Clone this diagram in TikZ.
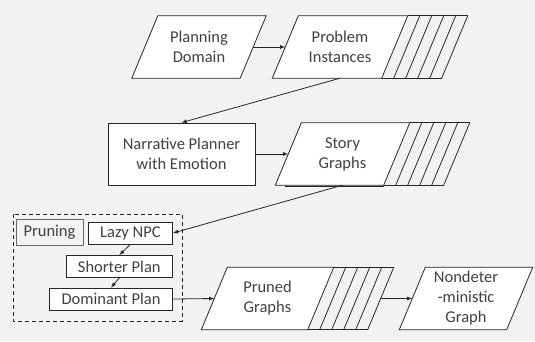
\documentclass[tikz,border=0pt]{standalone}
\usepackage{fontspec}
\setmainfont{Carlito}
\usetikzlibrary{backgrounds}
\definecolor{bggray}{HTML}{F2F2F2}
\definecolor{linegray}{HTML}{262626}
\definecolor{textgray}{HTML}{404040}
\begin{document}
\begin{tikzpicture}
	  [
	    x                       = 1pt,
	    y                       = -1pt,
	    every node/.style       = {font=\fontsize{16.5}{20}\selectfont, text=textgray},
	    outline/.style          = {draw=linegray, line width=0.8pt},
	    flow/.style             = {outline, -latex},
	    para/.style             = {
			minimum width=108pt,
			minimum height=62pt,
			inner sep=0pt,
			align=center
		},
	    planbox/.style          = {
			outline,
			fill=white,
			minimum height=22pt,
			inner xsep=12pt,
			inner ysep=0pt
		}
		]
		\useasboundingbox (0,0) rectangle (535,341);
		% document shapes
		\node [para] (domain) at (199,47) {Planning\\Domain};
		\node [para, minimum width=109pt] (probl) at (340,47) {Problem\\Instances};
		\node [outline, fill=white, minimum width=147pt, minimum height=62pt, align=center] (narr) at (181.5,154) {Narrative Planner\\with Emotion};
		\node [para] (story) at (342.5,154) {Story\\Graphs};
		\node [para, minimum width=106pt] (pruned) at (267.5,298.5) {Pruned\\Graphs};
		\node [para, minimum width=107pt] (graph) at (466,298.5) {Nondeter\\-ministic\\Graph};
		% pruning steps
		\node [outline, draw=black!60, minimum width=67pt, minimum height=26pt, inner sep=0pt] (pruning) at (49.5,232) {Pruning};
		\node [planbox, anchor=east] (lazy) at (173,233) {Lazy NPC};
		\node [planbox, anchor=east] (shorter) at (173,266.5) {Shorter Plan};
		\node [planbox, anchor=east] (dominant) at (173,299) {Dominant Plan};
		\coordinate (prunedout) at ([xshift=60pt]pruned.east);

		\begin{scope}[on background layer]
			\fill [bggray] (0,0) rectangle (535,341);
			\draw [outline, dash pattern=on 4pt off 3pt] (13,214) rectangle (182,321);
			\foreach \n in {domain,probl,story,pruned,graph}
				\draw [outline, fill=white] ([xshift=13pt]\n.north west) -- ([xshift=13pt]\n.north east)
					-- ([xshift=-13pt]\n.south east) -- ([xshift=-13pt]\n.south west) -- cycle;
			\foreach \n in {probl,story,pruned} {
				\draw [outline] ([xshift=13pt]\n.north east) -- ([xshift=73pt]\n.north east);
				\draw [outline] ([xshift=-13pt]\n.south east) -- ([xshift=47pt]\n.south east);
				\foreach \i in {1,...,5}
					\draw [outline] ([xshift={13pt+12pt*\i}]\n.north east) -- ([xshift={-13pt+12pt*\i}]\n.south east);
			}
			\draw [outline, line width=1.3pt] ([xshift=-3pt,yshift=-1.5pt]story.south west) -- ([xshift=-13pt,yshift=-1.5pt]story.south east);
		\end{scope}

		\draw [flow] (domain.east) -- (probl.west);
		\draw [flow] (probl.south) -- (narr.north);
		\draw [flow] (narr.east) -- (story.west);
		\draw [flow] (story.south) -- (lazy.east);
		\draw [flow] (lazy.south) -- (shorter.north);
		\draw [flow] (shorter.south) -- (dominant.north);
		\draw [flow] (dominant.east) -- (pruned.west);
		\draw [flow] (prunedout) -- (graph.west);
	\end{tikzpicture}
\end{document}
